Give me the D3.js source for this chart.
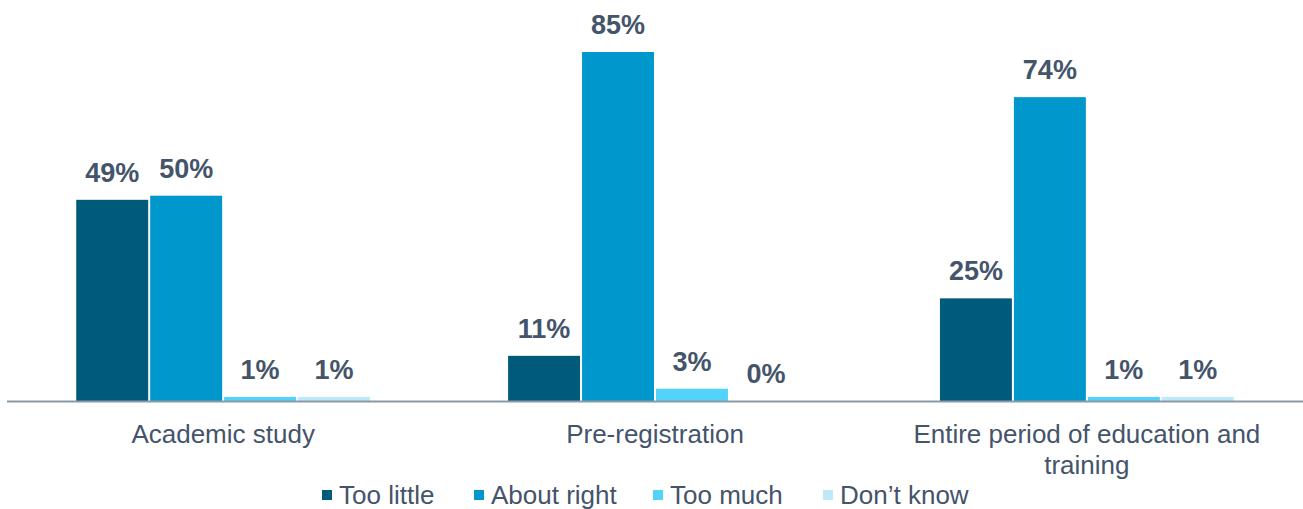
<!DOCTYPE html>
<html>
<head>
<meta charset="utf-8">
<script src="https://cdn.jsdelivr.net/npm/d3@7"></script>
<style>
  body { margin: 0; background: #fff; }
  svg { display: block; font-family: "Liberation Sans", Arial, sans-serif; }
</style>
</head>
<body>
<div id="chart"></div>
<script>
// chart values
const categories = ["Academic study", "Pre-registration", "Entire period of education and training"];
const seriesNames = ["Too little", "About right", "Too much", "Don\u2019t know"];
const tooLittle = [49, 11, 25];
const aboutRight = [50, 85, 74];
const tooMuch = [1, 3, 1];
const dontKnow = [1, 0, 1];
const colors = ["#005a7a", "#0097cc", "#55d2fa", "#bde9f8"];

const allSeries = [tooLittle, aboutRight, tooMuch, dontKnow];

const W = 1303, H = 509;
const svg = d3.select("#chart").append("svg")
  .attr("width", W)
  .attr("height", H);

const baseY = 401;

const x0 = d3.scaleBand()
  .domain(categories)
  .range([7, 1303])
  .paddingInner(0.315)
  .paddingOuter(0.158);

const x1 = d3.scaleBand()
  .domain(seriesNames)
  .range([0, x0.bandwidth()])
  .padding(0);

const y = d3.scaleLinear()
  .domain([0, 85])
  .range([baseY, 52]);

// rows: one per category, one per series
const rows = [];
categories.forEach((c, ci) => {
  seriesNames.forEach((s, si) => {
    rows.push({cat: c, series: s, si: si, value: allSeries[si][ci]});
  });
});

svg.selectAll("rect.bar")
  .data(rows)
  .enter()
  .append("rect")
    .attr("class", "bar")
    .attr("x", d => x0(d.cat) + x1(d.series) + 1)
    .attr("y", d => y(d.value))
    .attr("width", x1.bandwidth() - 2)
    .attr("height", d => baseY - y(d.value))
    .attr("fill", d => colors[d.si]);

// value labels
svg.selectAll("text.val")
  .data(rows)
  .enter()
  .append("text")
    .attr("class", "val")
    .attr("x", d => x0(d.cat) + x1(d.series) + x1.bandwidth() / 2)
    .attr("y", d => y(d.value) - 18)
    .attr("text-anchor", "middle")
    .attr("font-size", 27)
    .attr("font-weight", "bold")
    .attr("fill", "#44546a")
    .text(d => d.value + "%");

// baseline
svg.append("line")
  .attr("x1", 7)
  .attr("x2", W)
  .attr("y1", baseY + 0.5)
  .attr("y2", baseY + 0.5)
  .attr("stroke", "#8a9aa6")
  .attr("stroke-width", 2);

// category labels (wrap long one by hand, like the original)
const catLines = {
  "Academic study": ["Academic study"],
  "Pre-registration": ["Pre-registration"],
  "Entire period of education and training": ["Entire period of education and", "training"]
};
categories.forEach(c => {
  const t = svg.append("text")
    .attr("x", x0(c) + x0.bandwidth() / 2)
    .attr("y", 443)
    .attr("text-anchor", "middle")
    .attr("font-size", 26)
    .attr("fill", "#44546a");
  catLines[c].forEach((ln, i) => {
    t.append("tspan")
      .attr("x", x0(c) + x0.bandwidth() / 2)
      .attr("dy", i === 0 ? 0 : 31)
      .text(ln);
  });
});

// legend
const legendX = [322, 474, 653, 823];
const lg = svg.selectAll("g.leg")
  .data(seriesNames)
  .enter()
  .append("g")
    .attr("class", "leg")
    .attr("transform", (d, i) => `translate(${legendX[i]},495)`);

lg.append("rect")
  .attr("x", 0)
  .attr("y", -5)
  .attr("width", 10)
  .attr("height", 10)
  .attr("fill", (d, i) => colors[i]);

lg.append("text")
  .attr("x", 17)
  .attr("y", 9)
  .attr("font-size", 26)
  .attr("fill", "#44546a")
  .text(d => d);
</script>
</body>
</html>
